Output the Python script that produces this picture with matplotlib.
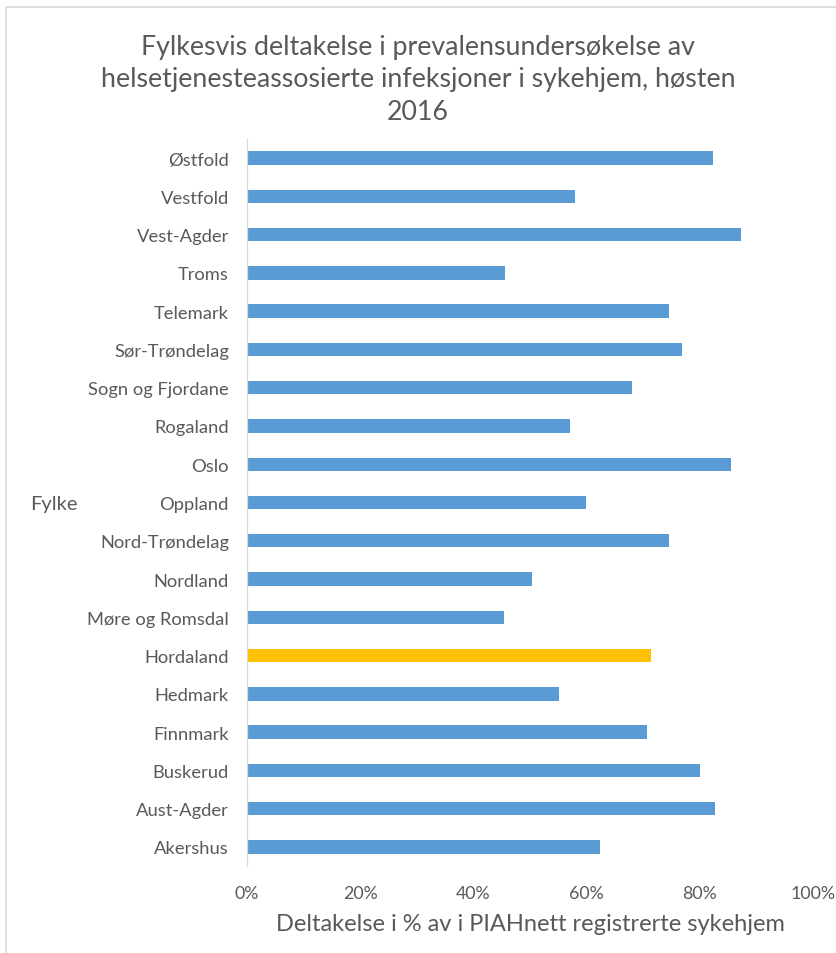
import matplotlib
matplotlib.use("Agg")
import matplotlib.pyplot as plt
from matplotlib.patches import Rectangle

plt.rcParams['font.family'] = ['Lato', 'DejaVu Sans']

categories = ["Østfold", "Vestfold", "Vest-Agder", "Troms", "Telemark",
              "Sør-Trøndelag", "Sogn og Fjordane", "Rogaland", "Oslo", "Oppland",
              "Nord-Trøndelag", "Nordland", "Møre og Romsdal", "Hordaland",
              "Hedmark", "Finnmark", "Buskerud", "Aust-Agder", "Akershus"]
values = [82.4, 57.9, 87.2, 45.5, 74.6, 76.8, 68.1, 57.0, 85.5, 59.9,
          74.6, 50.3, 45.4, 71.3, 55.2, 70.7, 80.1, 82.6, 62.4]
highlight = "Hordaland"
xticks = [0, 20, 40, 60, 80, 100]
xtick_labels = ["0%", "20%", "40%", "60%", "80%", "100%"]
title = "Fylkesvis deltakelse i prevalensundersøkelse av\nhelsetjenesteassosierte infeksjoner i sykehjem, høsten\n2016"
xlabel = "Deltakelse i % av i PIAHnett registrerte sykehjem"
ylabel = "Fylke"

W, H = 836, 954
fig = plt.figure(figsize=(W / 100, H / 100), dpi=100)
fig.patches.append(Rectangle((6 / W, -0.1), 1.2, 1.1 - 8 / H, transform=fig.transFigure,
                             fill=False, edgecolor="#d9d9d9", linewidth=1.2))

ax = fig.add_axes([247 / W, 1 - 867 / H, (813 - 247) / W, (867 - 140) / H])
text_color = "#595959"
colors = ["#FFC000" if c == highlight else "#5B9BD5" for c in categories]
ypos = list(range(len(categories)))
ax.barh(ypos, values, height=0.35, color=colors)
ax.set_ylim(len(categories) - 0.5, -0.5)
ax.set_xlim(0, 100)
ax.set_yticks(ypos)
ax.set_yticklabels(categories, fontsize=13.2, color=text_color)
ax.set_xticks(xticks)
ax.set_xticklabels(xtick_labels, fontsize=12.8, color=text_color)
ax.tick_params(axis="both", length=0)
ax.tick_params(axis="y", pad=13)
ax.tick_params(axis="x", pad=14)
for s in ["top", "right", "bottom"]:
    ax.spines[s].set_visible(False)
ax.spines["left"].set_color("#d9d9d9")
ax.spines["left"].set_linewidth(0.9)

ax.set_xlabel(xlabel, fontsize=17, color=text_color, labelpad=8)
fig.text(30 / W, 1 - 505 / H, ylabel, fontsize=14.5, color=text_color, ha="left", va="center")
fig.text(418 / W, 1 - 80 / H, title, fontsize=19.3, color=text_color, ha="center",
         va="center", linespacing=1.38)

fig.savefig("out.png", dpi=100)
